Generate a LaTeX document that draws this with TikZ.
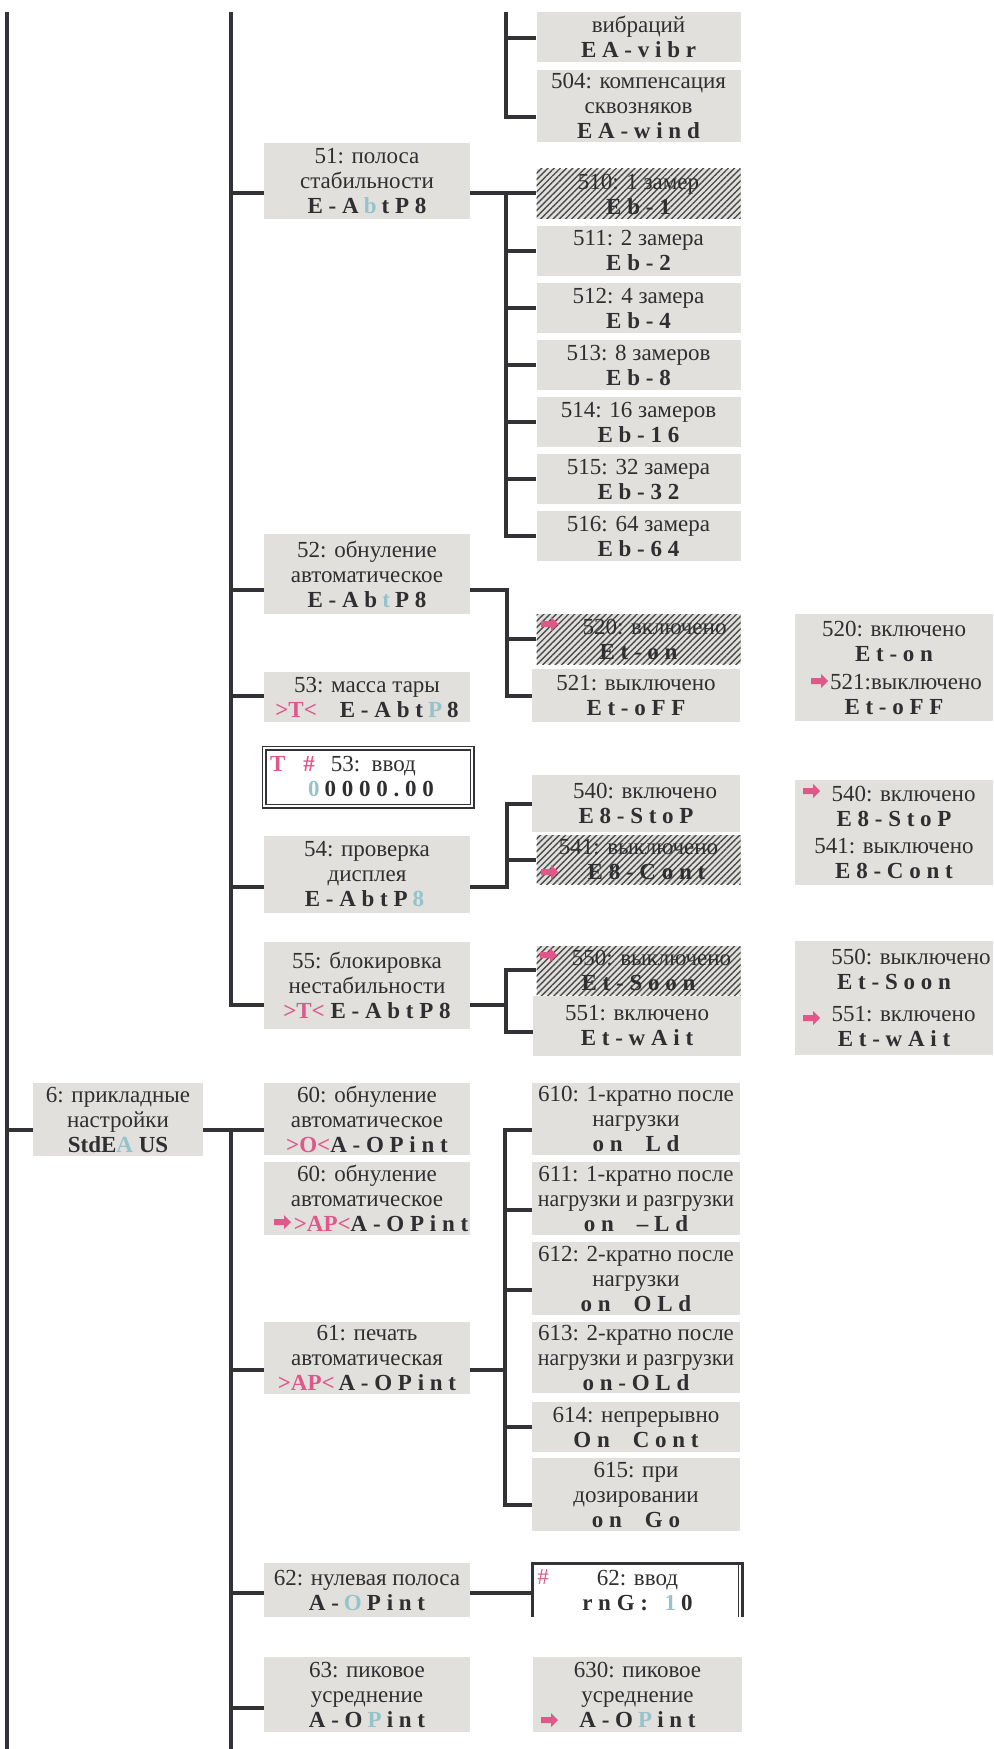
\documentclass[tikz,border=0pt]{standalone}
\usepackage{fontspec}
\setmainfont{Liberation Serif}
\newfontfamily\codefont[LetterSpace=25]{Liberation Serif}
\usetikzlibrary{patterns.meta,shapes.arrows}

\definecolor{boxgray}{HTML}{E1E0DC}
\definecolor{linedark}{HTML}{333337}
\definecolor{txtdark}{HTML}{2F2F31}
\definecolor{pinkm}{HTML}{E0578A}
\definecolor{tealb}{HTML}{95C3CB}
\definecolor{hatchgray}{HTML}{4B4B4D}

\newcommand{\cd}[1]{{\codefont\bfseries #1}}
\newcommand{\hl}[1]{\kern.22em\textcolor{tealb}{#1}\kern.22em}
\newcommand{\pk}[1]{\textcolor{pinkm}{\bfseries #1}}

\tikzset{
  box/.style={fill=boxgray, inner sep=0pt, align=center, text=txtdark,
    font=\fontsize{11.5}{12.5}\selectfont},
  mbox/.style={box, minimum width=103pt},
  sbox/.style={box, minimum width=102pt},
  wbox/.style={box, minimum width=104pt},
  rbox/.style={box, minimum width=99pt},
  hatch/.style={preaction={fill=boxgray},
    pattern={Lines[angle=45,distance=2.2pt,line width=0.7pt]},
    pattern color=hatchgray},
  wire/.style={draw=linedark, line width=2pt},
  parrow/.style={single arrow, fill=pinkm, inner sep=1.3pt, minimum height=8.5pt,
    single arrow head extend=2pt},
}

\begin{document}
\begin{tikzpicture}[x=0.5pt, y=-0.5pt]
\useasboundingbox (0,0) rectangle (994,1749);

% bus points
\coordinate (a0) at (7,12);
\coordinate (a1) at (7,1749);
\coordinate (b0) at (231,12);
\coordinate (b1) at (231,1005);
\coordinate (b2) at (231,1130);
\coordinate (b3) at (231,1749);
\coordinate (j51) at (231,193);
\coordinate (j52) at (231,590);
\coordinate (j53) at (231,696);
\coordinate (j54) at (231,887);
\coordinate (j61) at (231,1370);
\coordinate (j62) at (231,1593);
\coordinate (j63) at (231,1708);
\coordinate (c0) at (506,12);
\coordinate (k503) at (506,38);
\coordinate (c1) at (506,117);
\coordinate (t51) at (506,193);
\coordinate (t52) at (507,590);
\coordinate (t54) at (507,887);
\coordinate (t55) at (506,1005);
\coordinate (k550) at (506,970);
\coordinate (k551) at (506,1032);
\coordinate (k610) at (505,1130);
\coordinate (k611) at (505,1210);
\coordinate (k612) at (505,1290);
\coordinate (k61) at (505,1370);
\coordinate (k614) at (505,1427);
\coordinate (k615) at (505,1505);

% group 5
\node[sbox, minimum height=25pt] (n503) at (638.5,37) {вибраций\\\cd{EA-vibr}};
\node[sbox, minimum height=36pt] (n504) at (638.5,106) {504: компенсация\\сквозняков\\\cd{EA-wind}};
\node[mbox, minimum height=38pt] (n51) at (367,181) {51: полоса\\стабильности\\\cd{E-A\hl{b}tP8}};
\node[sbox, hatch, minimum height=25pt] (n510) at (638.5,194) {510: 1 замер\\\cd{Eb-1}};
\node[sbox, minimum height=25pt] (n511) at (638.5,251) {511: 2 замера\\\cd{Eb-2}};
\node[sbox, minimum height=25pt] (n512) at (638.5,308) {512: 4 замера\\\cd{Eb-4}};
\node[sbox, minimum height=25pt] (n513) at (638.5,365) {513: 8 замеров\\\cd{Eb-8}};
\node[sbox, minimum height=25pt] (n514) at (638.5,422) {514: 16 замеров\\\cd{Eb-16}};
\node[sbox, minimum height=25pt] (n515) at (638.5,479) {515: 32 замера\\\cd{Eb-32}};
\node[sbox, minimum height=25pt] (n516) at (638.5,536) {516: 64 замера\\\cd{Eb-64}};

\node[mbox, minimum height=40pt] (n52) at (367,574) {52: обнуление\\автоматическое\\\cd{E-Ab\hl{t}P8}};
\node[sbox, hatch, minimum height=25pt] (n520) at (638.5,639) {\hspace*{16pt}520: включено\\\cd{Et-on}};
\node[wbox, minimum height=26.5pt] (n521) at (636,695.5) {521: выключено\\\cd{Et-oFF}};
\node[rbox, minimum height=27pt] (r520) at (894,641) {520: включено\\\cd{Et-on}};
\node[rbox, minimum height=26.5pt] (r521) at (894,694.5) {\hspace*{12pt}521:выключено\\\cd{Et-oFF}};

\node[mbox, minimum height=25pt] (n53) at (367,697) {53: масса тары\\\pk{>T<}\hspace{1em}\cd{E-Abt\hl{P}8}};
\node[box, fill=white, draw=linedark, double=white, line width=0.8pt, double distance=0.9pt,
  text width=98pt, inner xsep=3pt, align=left, minimum height=29pt] (in53) at (368,777)
  {\pk{T}\hspace{9pt}\pk{\#}\hspace{8pt}53: ввод\\\hspace*{16.5pt}\cd{\hl{0}0000.00}};

\node[wbox, minimum height=28.5pt] (n540) at (636,803.5) {\hspace*{9pt}540: включено\\\cd{E8-StoP}};
\node[sbox, hatch, minimum height=24.5pt] (n541) at (638.5,859.5) {541: выключено\\\hspace*{8pt}\cd{E8-Cont}};
\node[rbox, minimum height=26pt] (r540) at (894,806) {\hspace*{9.5pt}540: включено\\\cd{E8-StoP}};
\node[rbox, minimum height=26.5pt] (r541) at (894,858.5) {541: выключено\\\cd{E8-Cont}};
\node[mbox, minimum height=38.5pt] (n54) at (367,874.5) {54: проверка\\дисплея\\\cd{E-AbtP\hl{8}}};

\node[mbox, minimum height=43.5pt] (n55) at (367,985.5) {55: блокировка\\нестабильности\\\pk{>T<} \cd{E-AbtP8}};
\node[sbox, hatch, minimum height=24.5pt] (n550) at (638.5,970.5) {\hspace*{13pt}550: выключено\\\cd{Et-Soon}};
\node[wbox, minimum height=30pt] (n551) at (637,1026) {551: включено\\\cd{Et-wAit}};
\node[rbox, minimum height=28.5pt] (r550) at (894,969.5) {\hspace*{17pt}550: выключено\\\cd{Et-Soon}};
\node[rbox, minimum height=28.5pt] (r551) at (894,1026.5) {\hspace*{9.5pt}551: включено\\\cd{Et-wAit}};

% group 6
\node[box, minimum width=85pt, minimum height=36.5pt] (n6) at (118,1119.5) {6: прикладные\\настройки\\\textbf{StdE\textcolor{tealb}{A} US}};
\node[mbox, minimum height=36pt] (n60a) at (367,1119) {60: обнуление\\автоматическое\\\pk{>O<}\cd{A-OPint}};
\node[mbox, minimum height=36.5pt] (n60b) at (367,1198.5) {60: обнуление\\автоматическое\\\hspace*{14pt}\pk{>AP<}\cd{A-OPint}};
\node[mbox, minimum height=36pt] (n61) at (367,1358) {61: печать\\автоматическая\\\pk{>AP<}\,\cd{A-OPint}};
\node[wbox, minimum height=36pt] (n610) at (636,1119) {610: 1-кратно после\\нагрузки\\\cd{on\ \ Ld}};
\node[wbox, minimum height=36.5pt] (n611) at (636,1198.5) {611: 1-кратно после\\\scalebox{0.95}[1]{нагрузки и разгрузки}\\\cd{on\ \ –Ld}};
\node[wbox, minimum height=36.5pt] (n612) at (636,1278.5) {612: 2-кратно после\\нагрузки\\\cd{on\ \ OLd}};
\node[wbox, minimum height=35.5pt] (n613) at (636,1357.5) {613: 2-кратно после\\\scalebox{0.95}[1]{нагрузки и разгрузки}\\\cd{on-OLd}};
\node[wbox, minimum height=25pt] (n614) at (636,1427) {614: непрерывно\\\cd{On\ \ Cont}};
\node[wbox, minimum height=36.5pt] (n615) at (636,1494.5) {615: при\\дозировании\\\cd{on\ \ Go}};
\node[mbox, minimum height=27pt] (n62) at (367,1590) {62: нулевая полоса\\\cd{A-\hl{O}Pint}};
\node[box, fill=none, minimum width=104.5pt, minimum height=26.5pt] (in62) at (637.5,1590.5) {62: ввод\\\cd{rnG:\ \hl{1}0}};
\node[mbox, minimum height=37.5pt] (n63) at (367,1694.5) {63: пиковое\\усреднение\\\cd{A-O\hl{P}int}};
\node[box, minimum width=104.5pt, minimum height=37.5pt] (n630) at (637.5,1694.5) {630: пиковое\\усреднение\\\cd{A-O\hl{P}int}};

% pink markers
\node[parrow] (a520) at (548,624) {};
\node[parrow] (a541) at (548,872) {};
\node[parrow] (a550) at (547,955) {};
\node[parrow] (ar521) at (818,681) {};
\node[parrow] (ar540) at (810,791) {};
\node[parrow] (ar551) at (810,1018) {};
\node[parrow] (a60) at (281,1222) {};
\node[parrow] (a630) at (548,1720) {};
\node[inner sep=0pt, text=pinkm, font=\fontsize{11.5}{12}\selectfont] (h62) at (543,1577) {\#};

% frame of 62 input
\draw[wire, line width=1.5pt] (in62.south west) -- (in62.north west) -- (in62.north east) -- (in62.south east);
\draw[draw=linedark, line width=0.6pt] ([xshift=-2pt]in62.north east) -- ([xshift=-2pt]in62.south east);

% main buses
\draw[wire] (a0) -- (a1);
\draw[wire] (a0 |- b2) -- (b2 -| n6.west);
\draw[wire] (b0) |- (b1 -| n55.west);
\draw[wire] (j51) -- (j51 -| n51.west);
\draw[wire] (j52) -- (j52 -| n52.west);
\draw[wire] (j53) -- (j53 -| n53.west);
\draw[wire] (j54) -- (j54 -| n54.west);
\draw[wire] (n6.east |- b2) -- (b2 -| n60a.west);
\draw[wire] (b2) -- (b3);
\draw[wire] (j61) -- (j61 -| n61.west);
\draw[wire] (j62) -- (j62 -| n62.west);
\draw[wire] (j63) -- (j63 -| n63.west);

% sub buses of 5
\draw[wire] (c0) |- (n504.west |- c1);
\draw[wire] (k503) -- (k503 -| n503.west);
\draw[wire] (n51.east |- t51) -- (t51 -| n510.west);
\draw[wire] (t51) |- (n516.west);
\draw[wire] (t51 |- n511) -- (n511.west);
\draw[wire] (t51 |- n512) -- (n512.west);
\draw[wire] (t51 |- n513) -- (n513.west);
\draw[wire] (t51 |- n514) -- (n514.west);
\draw[wire] (t51 |- n515) -- (n515.west);
\draw[wire] (n52.east |- t52) -- (t52) |- (n521.west);
\draw[wire] (t52 |- n520) -- (n520.west);
\draw[wire] (n54.east |- t54) -- (t54) |- (n540.west);
\draw[wire] (t54 |- n541) -- (n541.west);
\draw[wire] (n55.east |- t55) -- (t55);
\draw[wire] (n550.west |- k550) -- (k550) -- (k551) -- (k551 -| n551.west);

% sub buses of 6
\draw[wire] (k610 -| n610.west) -- (k610) -- (k615) -- (k615 -| n615.west);
\draw[wire] (k611) -- (k611 -| n611.west);
\draw[wire] (k612) -- (k612 -| n612.west);
\draw[wire] (k614) -- (k614 -| n614.west);
\draw[wire] (n61.east |- k61) -- (k61);
\draw[wire] (n62.east |- j62) -- (j62 -| in62.west);
\end{tikzpicture}
\end{document}
